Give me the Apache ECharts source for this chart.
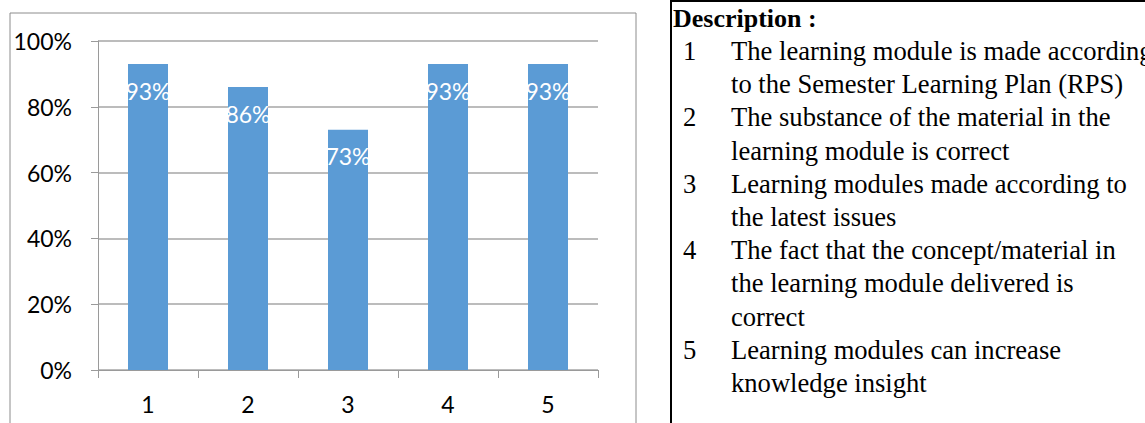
<!DOCTYPE html>
<html>
<head>
<meta charset="utf-8">
<script src="https://cdn.jsdelivr.net/npm/echarts@6/dist/echarts.min.js"></script>
<style>
  html, body { margin: 0; padding: 0; background: #fff; }
  #chart { width: 1145px; height: 423px; }
</style>
</head>
<body>
<div id="chart"></div>
<script>
// Statement numbers and share of agreement for each statement
const categories = ['1', '2', '3', '4', '5'];
const agreement = [0.93, 0.86, 0.73, 0.93, 0.93];
const yTicks = [0, 0.2, 0.4, 0.6, 0.8, 1];

// Legend text: one entry per statement, already broken into lines
const descTitle = 'Description :';
const descItems = [
  ['The learning module is made according', 'to the Semester Learning Plan (RPS)'],
  ['The substance of the material in the', 'learning module is correct'],
  ['Learning modules made according to', 'the latest issues'],
  ['The fact that the concept/material in', 'the learning module delivered is', 'correct'],
  ['Learning modules can increase', 'knowledge insight']
];

const pct = v => Math.round(v * 100) + '%';
const axisFont = 'Lato, "Open Sans", sans-serif';
const serif = '"Liberation Serif", "DejaVu Serif", serif';
const descSize = 26.6;

// Build the description panel as text elements
const descGraphics = [];
descGraphics.push({
  type: 'rect',
  shape: { x: 671, y: 1, width: 600, height: 500 },
  style: { fill: 'none', stroke: '#000', lineWidth: 2 },
  silent: true
});
descGraphics.push({
  type: 'text', x: 673, y: 27 - 9,
  style: { text: descTitle, font: 'bold 26px ' + serif, fill: '#000', verticalAlign: 'middle' }
});
let lineNo = 0;
descItems.forEach((lines, i) => {
  lines.forEach((ln, j) => {
    const base = 60 + 33.2 * lineNo;
    if (j === 0) {
      descGraphics.push({
        type: 'text', x: 683, y: base - 9,
        style: { text: categories[i], font: descSize + 'px ' + serif, fill: '#000', verticalAlign: 'middle' }
      });
    }
    descGraphics.push({
      type: 'text', x: 731, y: base - 9,
      style: { text: ln, font: descSize + 'px ' + serif, fill: '#000', verticalAlign: 'middle' }
    });
    lineNo++;
  });
});

const chart = echarts.init(document.getElementById('chart'), null, { renderer: 'svg' });
chart.setOption({
  animation: false,
  backgroundColor: '#fff',
  grid: { left: 98, right: 547, top: 41, bottom: 53 },
  xAxis: {
    type: 'category',
    data: categories,
    axisLine: { lineStyle: { color: '#9a9a9a', width: 1 } },
    axisTick: { show: true, length: 8, alignWithLabel: false, lineStyle: { color: '#9a9a9a' } },
    axisLabel: { color: '#000', fontSize: 23, fontFamily: axisFont, margin: 22 }
  },
  yAxis: {
    type: 'value',
    min: yTicks[0],
    max: yTicks[yTicks.length - 1],
    interval: yTicks[1] - yTicks[0],
    axisLine: { show: true, lineStyle: { color: '#9a9a9a', width: 1 } },
    axisTick: { show: true, length: 7, lineStyle: { color: '#9a9a9a' } },
    splitLine: { lineStyle: { color: '#a6a6a6', width: 1.5 } },
    axisLabel: { color: '#000', fontSize: 23, fontFamily: axisFont, margin: 26, formatter: pct }
  },
  series: [{
    type: 'bar',
    data: agreement,
    barWidth: 40,
    itemStyle: { color: '#5b9bd5' },
    label: {
      show: true,
      position: 'insideTop',
      distance: 15,
      color: '#fff',
      fontSize: 23,
      fontFamily: axisFont,
      formatter: p => pct(p.value)
    }
  }],
  graphic: [
    {
      type: 'rect',
      shape: { x: 10, y: 13, width: 626, height: 430 },
      style: { fill: 'none', stroke: '#8c8c8c', lineWidth: 1 },
      silent: true,
      z: -1
    }
  ].concat(descGraphics)
});
</script>
</body>
</html>
